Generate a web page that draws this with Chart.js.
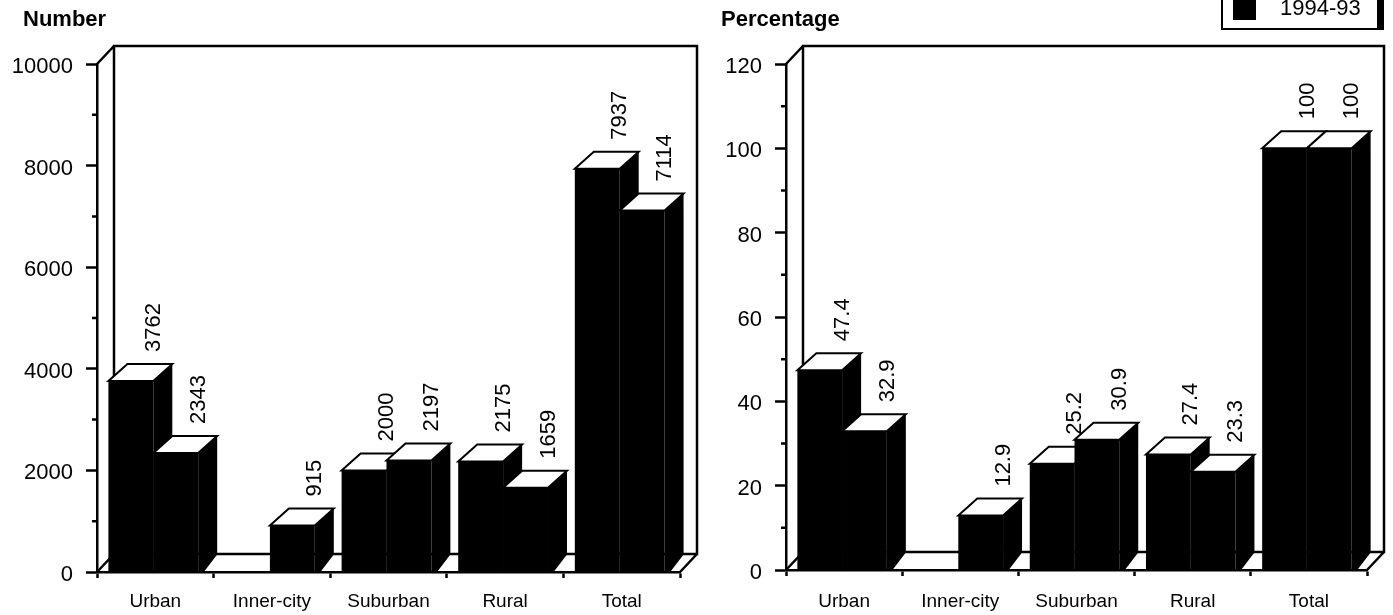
<!DOCTYPE html>
<html>
<head>
<meta charset="utf-8">
<title>Number and percentage</title>
<script src="https://cdn.jsdelivr.net/npm/chart.js@4/dist/chart.umd.min.js"></script>
<style>
  html, body { margin: 0; padding: 0; background: #fff; overflow: hidden; }
  #page { position: relative; width: 1393px; height: 615px; overflow: hidden; }
  canvas { position: absolute; top: 0; }
  #chart-number { left: 0; }
  #chart-percent { left: 700px; }
  #legend {
    position: absolute; left: 1221px; top: -10px; width: 154px; height: 36px;
    border: 2px solid #000; background: #fff; box-shadow: 5px 0 0 #000;
    font: 22px "Liberation Sans", Arial, sans-serif; color: #000;
  }
  #legend i { position: absolute; left: 10px; top: 6px; width: 23px; height: 22px; background: #000; }
  #legend span { position: absolute; left: 57px; top: 4px; line-height: 24px; }
</style>
</head>
<body>
<div id="page">
  <canvas id="chart-number" width="700" height="615"></canvas>
  <canvas id="chart-percent" width="693" height="615"></canvas>
  <div id="legend"><i></i><span>1994-93</span></div>
</div>
<script>
  // 数据
  const categories = ['Urban', 'Inner-city', 'Suburban', 'Rural', 'Total'];
  const numberFirst = [3762, null, 2000, 2175, 7937];
  const numberSecond = [2343, 915, 2197, 1659, 7114];
  const percentFirst = [47.4, null, 25.2, 27.4, 100];
  const percentSecond = [32.9, 12.9, 30.9, 23.3, 100];
  const numberMinorTicks = [1000, 3000, 5000, 7000, 9000];
  const percentMinorTicks = [10, 30, 50, 70, 90, 110];

  const FONT = '"Liberation Sans", Arial, sans-serif';
  const FRAME_DEPTH_X = 17;
  const FRAME_DEPTH_Y = 18;
  const BAR_DEPTH_X = 19;
  const BAR_DEPTH_Y = 17;
  const BAR_SHIFT = -2;

  // 假3D外框、柱子侧面和顶面、竖排数值
  const fake3d = {
    id: 'fake3d',
    afterDatasetsUpdate(chart) {
      chart.data.datasets.forEach((ds, i) => {
        chart.getDatasetMeta(i).data.forEach(bar => { bar.x += BAR_SHIFT; });
      });
    },
    beforeDatasetsDraw(chart, args, opts) {
      const { ctx, chartArea: a, scales } = chart;
      ctx.save();
      // 标题
      ctx.fillStyle = '#000';
      ctx.font = 'bold 22px ' + FONT;
      ctx.textBaseline = 'middle';
      ctx.fillText(opts.heading, opts.headingX, 20);

      ctx.strokeStyle = '#000';
      ctx.lineWidth = 2.5;
      ctx.beginPath();
      // 后墙
      ctx.moveTo(a.left + FRAME_DEPTH_X, a.bottom - FRAME_DEPTH_Y);
      ctx.lineTo(a.left + FRAME_DEPTH_X, a.top - FRAME_DEPTH_Y);
      ctx.lineTo(a.right + FRAME_DEPTH_X, a.top - FRAME_DEPTH_Y);
      ctx.lineTo(a.right + FRAME_DEPTH_X, a.bottom - FRAME_DEPTH_Y);
      ctx.lineTo(a.left + FRAME_DEPTH_X, a.bottom - FRAME_DEPTH_Y);
      // 连接线
      ctx.moveTo(a.left, a.top);
      ctx.lineTo(a.left + FRAME_DEPTH_X, a.top - FRAME_DEPTH_Y);
      ctx.moveTo(a.left, a.bottom);
      ctx.lineTo(a.left + FRAME_DEPTH_X, a.bottom - FRAME_DEPTH_Y);
      ctx.moveTo(a.right, a.bottom);
      ctx.lineTo(a.right + FRAME_DEPTH_X, a.bottom - FRAME_DEPTH_Y);
      // 次刻度
      opts.minorTicks.forEach(v => {
        const y = scales.y.getPixelForValue(v);
        ctx.moveTo(a.left - 5, y);
        ctx.lineTo(a.left, y);
      });
      ctx.stroke();

      // 每个类别从左到右画侧面和顶面
      categories.forEach((c, idx) => {
        chart.data.datasets.forEach((ds, i) => {
          const bar = chart.getDatasetMeta(i).data[idx];
          if (ds.data[idx] === null) return;
          const left = bar.x - bar.width / 2;
          const right = bar.x + bar.width / 2;
          ctx.fillStyle = '#000';
          ctx.beginPath();
          ctx.moveTo(right, bar.y);
          ctx.lineTo(right + BAR_DEPTH_X, bar.y - BAR_DEPTH_Y);
          ctx.lineTo(right + BAR_DEPTH_X, bar.base - BAR_DEPTH_Y);
          ctx.lineTo(right + 6, bar.base);
          ctx.lineTo(right, bar.base);
          ctx.closePath();
          ctx.fill();
          ctx.fillStyle = '#fff';
          ctx.beginPath();
          ctx.moveTo(left, bar.y);
          ctx.lineTo(left + BAR_DEPTH_X, bar.y - BAR_DEPTH_Y);
          ctx.lineTo(right + BAR_DEPTH_X, bar.y - BAR_DEPTH_Y);
          ctx.lineTo(right, bar.y);
          ctx.closePath();
          ctx.fill();
          ctx.lineWidth = 2;
          ctx.stroke();
        });
      });
      ctx.restore();
    },
    afterDatasetsDraw(chart) {
      const { ctx } = chart;
      ctx.save();
      ctx.fillStyle = '#000';
      ctx.font = '22px ' + FONT;
      ctx.textAlign = 'left';
      ctx.textBaseline = 'middle';
      chart.data.datasets.forEach((ds, i) => {
        chart.getDatasetMeta(i).data.forEach((bar, idx) => {
          if (ds.data[idx] === null) return;
          ctx.save();
          ctx.translate(bar.x + BAR_DEPTH_X + 4, bar.y - BAR_DEPTH_Y - 12);
          ctx.rotate(-Math.PI / 2);
          ctx.fillText(String(ds.data[idx]), 0, 0);
          ctx.restore();
        });
      });
      ctx.restore();
    }
  };

  function makeChart(id, heading, headingX, first, second, maxValue, step, minorTicks, axisWidth, padRight, xAxisHeight, xLabelPad) {
    return new Chart(document.getElementById(id), {
      type: 'bar',
      plugins: [fake3d],
      data: {
        labels: categories,
        datasets: [
          { label: '', data: first, backgroundColor: '#000', categoryPercentage: 0.77, barPercentage: 1 },
          { label: '1994-93', data: second, backgroundColor: '#000', categoryPercentage: 0.77, barPercentage: 1 }
        ]
      },
      options: {
        responsive: false,
        animation: false,
        layout: { padding: { left: 0, right: padRight, top: 64, bottom: 0 } },
        plugins: {
          legend: { display: false },
          tooltip: { enabled: false },
          title: { display: false },
          fake3d: { minorTicks: minorTicks, heading: heading, headingX: headingX }
        },
        scales: {
          x: {
            grid: { drawOnChartArea: false, tickLength: 6, tickColor: '#000', tickWidth: 2.5 },
            border: { color: '#000', width: 2.5 },
            ticks: { color: '#000', padding: xLabelPad, maxRotation: 0, font: { family: FONT, size: 19 } },
            afterFit(scale) { scale.height = xAxisHeight; }
          },
          y: {
            min: 0,
            max: maxValue,
            grid: { drawOnChartArea: false, tickLength: 11, tickColor: '#000', tickWidth: 2.5 },
            border: { color: '#000', width: 2.5 },
            ticks: {
              stepSize: step,
              color: '#000',
              padding: 13,
              labelOffset: 3,
              font: { family: FONT, size: 22 },
              callback: value => String(value)
            },
            afterFit(scale) { scale.width = axisWidth; }
          }
        }
      }
    });
  }

  makeChart('chart-number', 'Number', 23, numberFirst, numberSecond, 10000, 2000, numberMinorTicks, 97, 20, 43, 12);
  makeChart('chart-percent', 'Percentage', 21, percentFirst, percentSecond, 120, 20, percentMinorTicks, 86, 26, 45, 14);
</script>
</body>
</html>
